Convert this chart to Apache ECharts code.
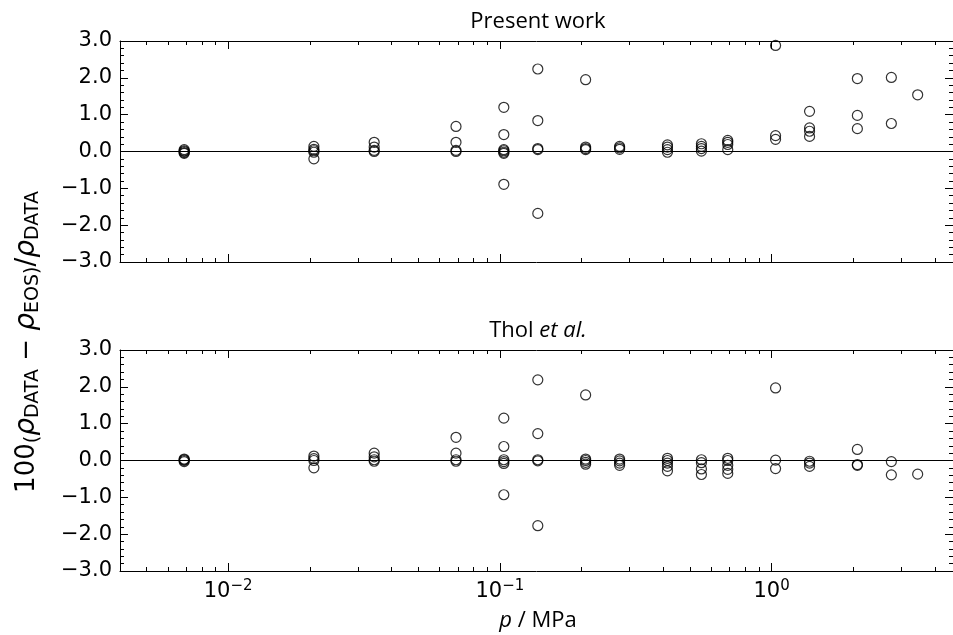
<!DOCTYPE html>
<html>
<head>
<meta charset="utf-8">
<script src="https://cdn.jsdelivr.net/npm/echarts@6/dist/echarts.min.js"></script>
<style>
  html, body { margin: 0; padding: 0; background: #fff; }
  #chart_container { width: 953px; height: 635px; }
</style>
</head>
<body>
<div id="chart_container"></div>
<script>
"use strict";

// pressures in MPa (1, 3, 5, 10 ... 500 psi)
const pressures = [0.00689, 0.02068, 0.03447, 0.06895, 0.1034, 0.1379, 0.2068, 0.2758,
                   0.4137, 0.5516, 0.6895, 1.034, 1.379, 2.068, 2.758, 3.447];

// deviations, one list per pressure
const devPresent = [
    [0.05, 0.02, 0.0, -0.03, -0.05],
    [0.14, 0.06, 0.02, -0.02, -0.2],
    [0.25, 0.12, 0.03, 0.0],
    [0.68, 0.25, 0.03, 0.0],
    [1.2, 0.46, 0.05, 0.02, -0.02, -0.05, -0.89],
    [2.24, 0.84, 0.08, 0.05, -1.68],
    [1.95, 0.12, 0.08, 0.05],
    [0.14, 0.1, 0.06],
    [0.18, 0.12, 0.05, -0.02],
    [0.21, 0.14, 0.08, 0.01],
    [0.3, 0.25, 0.19, 0.05],
    [2.88, 0.43, 0.33],
    [1.09, 0.64, 0.55, 0.41],
    [1.98, 0.98, 0.62],
    [2.01, 0.76],
    [1.54]
];

// deviations
const devThol = [
    [0.04, 0.02, 0.0, -0.03],
    [0.12, 0.05, 0.0, -0.2],
    [0.2, 0.1, 0.02, -0.02],
    [0.63, 0.2, 0.02, -0.02],
    [1.15, 0.38, 0.02, -0.03, -0.08, -0.93],
    [2.19, 0.73, 0.02, -0.01, -1.77],
    [1.78, 0.04, 0.0, -0.05, -0.1],
    [0.04, -0.01, -0.07, -0.13],
    [0.06, 0.0, -0.07, -0.16, -0.28],
    [0.02, -0.06, -0.23, -0.38],
    [0.06, 0.0, -0.13, -0.24, -0.35],
    [1.97, 0.01, -0.22],
    [-0.02, -0.07, -0.16],
    [0.3, -0.11, -0.13],
    [-0.03, -0.39],
    [-0.37]
];

const panelTitles = ['Present work', 'Thol {i|et al.}'];
const xMin = 0.004, xMax = 4.65;

const FONT = '"Open Sans", "Noto Sans", sans-serif';
const MATH = '"DejaVu Sans", sans-serif';

// decade and minor tick positions of the log axis
let majorX = [], minorX = [];
for (let k = -3; k <= 1; k++) {
    let d = Math.pow(10, k);
    if (d >= xMin && d <= xMax) majorX.push(d);
    for (let m = 2; m <= 9; m++) {
        let v = +(m * d).toPrecision(3);
        if (v >= xMin && v <= xMax) minorX.push(v);
    }
}

let toPairs = (dev) => {
    let out = [];
    dev.forEach((list, i) => list.forEach(v => out.push([pressures[i], v])));
    return out;
};

let fmtY = v => (v < 0 ? '\u2212' : '') + Math.abs(v).toFixed(1);
let fmtX = v => {
    let e = Math.round(Math.log10(v));
    return '{b|10}{s|' + (e < 0 ? '\u2212' + (-e) : e) + '}';
};

const grids = [
    { left: 120, top: 41, width: 833, height: 221 },
    { left: 120, top: 350, width: 833, height: 221 }
];

const black = { color: '#000', width: 1 };

let xAxes = [], yAxes = [];
grids.forEach((g, gi) => {
    ['bottom', 'top'].forEach(pos => {
        // major ticks + spine
        xAxes.push({
            type: 'log', gridIndex: gi, position: pos, min: xMin, max: xMax,
            axisLine: { show: true, onZero: false, lineStyle: black },
            axisTick: { show: true, inside: true, length: 8, customValues: majorX, lineStyle: black },
            axisLabel: {
                show: gi === 1 && pos === 'bottom', customValues: majorX, margin: 8,
                formatter: fmtX, color: '#000',
                rich: {
                    b: { fontSize: 21, fontFamily: MATH, color: '#000', lineHeight: 26 },
                    s: { fontSize: 15, fontFamily: MATH, color: '#000', verticalAlign: 'top', lineHeight: 14 }
                }
            },
            splitLine: { show: false }
        });
        // minor ticks
        xAxes.push({
            type: 'log', gridIndex: gi, position: pos, min: xMin, max: xMax,
            axisLine: { show: false, onZero: false },
            axisTick: { show: true, inside: true, length: 4, customValues: minorX, lineStyle: black },
            axisLabel: { show: false },
            splitLine: { show: false }
        });
    });
    ['left', 'right'].forEach(pos => {
        yAxes.push({
            type: 'value', gridIndex: gi, position: pos, min: -3, max: 3, interval: 1,
            axisLine: { show: true, onZero: false, lineStyle: black },
            axisTick: { show: true, inside: true, length: 8, lineStyle: black },
            minorTick: { show: true, splitNumber: 5, length: 4, lineStyle: black },
            axisLabel: { show: pos === 'left', formatter: fmtY, margin: 8,
                         fontSize: 21, fontFamily: MATH, color: '#000' },
            splitLine: { show: false }
        });
    });
});

let mkSeries = (dev, gi) => ({
    type: 'scatter',
    xAxisIndex: gi * 4,
    yAxisIndex: gi * 2,
    data: toPairs(dev),
    symbol: 'circle',
    symbolSize: 10,
    itemStyle: { color: 'rgba(0,0,0,0)', borderColor: '#000', borderWidth: 1.2 },
    emphasis: { disabled: true },
    markLine: {
        silent: true, symbol: ['none', 'none'], label: { show: false },
        lineStyle: { color: '#000', width: 1.2, type: 'solid' },
        data: [{ yAxis: 0 }]
    }
});

let graphics = panelTitles.map((t, i) => ({
    type: 'text', x: 538, y: [22, 331][i],
    style: {
        text: t, textAlign: 'center', textVerticalAlign: 'middle',
        font: '22px ' + FONT, fill: '#000',
        rich: { i: { fontStyle: 'italic', fontSize: 22, fontFamily: FONT } }
    }
}));

graphics.push({
    type: 'text', x: 538, y: 621,
    style: {
        text: '{i|p} / MPa', textAlign: 'center', textVerticalAlign: 'middle',
        font: '22px ' + FONT, fill: '#000',
        rich: { i: { fontStyle: 'italic', fontSize: 22, fontFamily: FONT } }
    }
});

// shared y label, rotated
graphics.push({
    type: 'text', x: 27, y: 342, rotation: Math.PI / 2,
    style: {
        text: '{n|100}{sub|(}{r|\u03C1}{sub|DATA}{n| \u2212 }{r|\u03C1}{sub|EOS)}{n|/}{r|\u03C1}{sub|DATA}',
        textAlign: 'center', textVerticalAlign: 'middle',
        font: '26px ' + MATH, fill: '#000',
        rich: {
            n: { fontSize: 26, fontFamily: MATH, lineHeight: 32 },
            r: { fontStyle: 'italic', fontSize: 28, fontFamily: MATH, lineHeight: 32 },
            sub: { fontSize: 19, fontFamily: MATH, verticalAlign: 'bottom', lineHeight: 32, padding: [7, 0, 0, 0] }
        }
    }
});

let myChart;
let pageLoaded = () => {
    let chartDom = document.getElementById('chart_container');
    myChart = echarts.init(chartDom, null, { renderer: 'canvas' });
    myChart.setOption({
        animation: false,
        backgroundColor: '#fff',
        grid: grids,
        xAxis: xAxes,
        yAxis: yAxes,
        series: [mkSeries(devPresent, 0), mkSeries(devThol, 1)],
        graphic: graphics
    });
};
window.addEventListener('load', pageLoaded, false);
</script>
</body>
</html>
